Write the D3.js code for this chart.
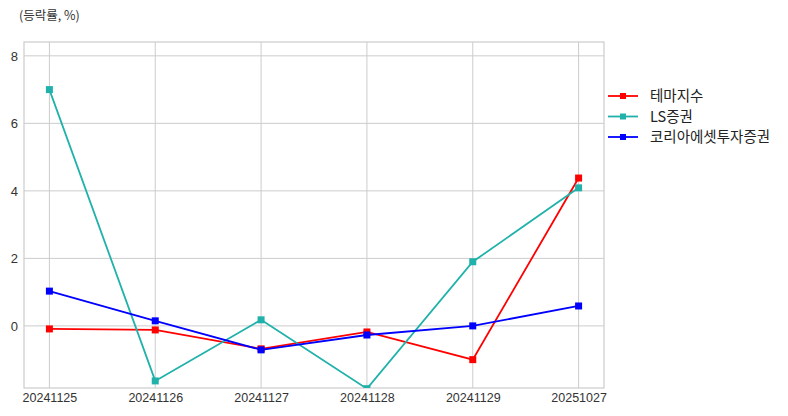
<!DOCTYPE html>
<html><head><meta charset="utf-8">
<script src="https://cdn.jsdelivr.net/npm/d3@7"></script>
<style>body{margin:0;background:#fff;}svg{display:block;font-family:"Noto Sans CJK KR","Noto Sans",sans-serif;}</style>
</head><body><svg id="c" width="788" height="416"></svg>
<script>
const categories = ["20241125","20241126","20241127","20241128","20241129","20251027"];
const themeIndex = [-0.09, -0.12, -0.68, -0.18, -1.0, 4.38];
const lsSec = [7.0, -1.63, 0.18, -1.86, 1.9, 4.09];
const koreaAsset = [1.03, 0.15, -0.71, -0.27, 0.0, 0.59];
const seriesNames = ["테마지수", "LS증권", "코리아에셋투자증권"];
const seriesColors = ["#ff0000", "#20b2aa", "#0000ff"];
const yTicks = [0, 2, 4, 6, 8];
const yDomain = [-1.84, 8.41];
const yTitle = "(등락률, %)";

const series = [themeIndex, lsSec, koreaAsset];
const svg = d3.select("#c");
const m = {l:24, r:604, t:42, b:388};
const x = d3.scalePoint().domain(categories).range([m.l, m.r]).padding(0.24);
const y = d3.scaleLinear().domain(yDomain).range([m.b, m.t]);

svg.append("defs").append("clipPath").attr("id","clip").append("rect")
  .attr("x", m.l).attr("y", m.t).attr("width", m.r-m.l).attr("height", m.b-m.t);

// grid
const g = svg.append("g");
g.selectAll(".hg").data(yTicks).join("line")
  .attr("x1", m.l).attr("x2", m.r).attr("y1", d=>y(d)).attr("y2", d=>y(d))
  .attr("stroke", "#cccccc").attr("stroke-width", 1);
g.selectAll(".vg").data(categories).join("line")
  .attr("x1", d=>x(d)).attr("x2", d=>x(d)).attr("y1", m.t).attr("y2", m.b)
  .attr("stroke", "#cccccc").attr("stroke-width", 1);
g.append("rect").attr("x", m.l).attr("y", m.t).attr("width", m.r-m.l).attr("height", m.b-m.t)
  .attr("fill","none").attr("stroke","#cccccc").attr("stroke-width",1.2);

// axes
const ya = svg.append("g").attr("transform", `translate(${m.l},0)`)
  .call(d3.axisLeft(y).tickValues(yTicks).tickSize(0).tickPadding(6).tickFormat(d3.format("d")));
ya.select(".domain").remove();
ya.selectAll("text").attr("font-size", 13).attr("fill", "#333");
const xa = svg.append("g").attr("transform", `translate(0,${m.b})`)
  .call(d3.axisBottom(x).tickSize(0).tickPadding(5));
xa.select(".domain").remove();
xa.selectAll("text").attr("font-size", 12.5).attr("fill", "#333");

// title
svg.append("text").attr("x", 19).attr("y", 20).attr("font-size", 12.5).attr("fill", "#333").text(yTitle);

// lines
const plot = svg.append("g").attr("clip-path", "url(#clip)");
const line = d3.line().x((d,i)=>x(categories[i])).y(d=>y(d));
series.forEach((s, k) => {
  plot.append("path").datum(s).attr("d", line).attr("fill","none")
    .attr("stroke", seriesColors[k]).attr("stroke-width", 1.8);
  plot.selectAll(null).data(s).join("rect")
    .attr("x", (d,i)=>x(categories[i])-3.5).attr("y", d=>y(d)-3.5)
    .attr("width", 7).attr("height", 7).attr("fill", seriesColors[k]);
});

// legend
const lg = svg.append("g");
seriesNames.forEach((n, k) => {
  const yy = 96 + k*20.5;
  lg.append("line").attr("x1", 608).attr("x2", 638).attr("y1", yy).attr("y2", yy)
    .attr("stroke", seriesColors[k]).attr("stroke-width", 1.8);
  lg.append("rect").attr("x", 620).attr("y", yy-3).attr("width", 6).attr("height", 6).attr("fill", seriesColors[k]);
  lg.append("text").attr("x", 650).attr("y", yy+5).attr("font-size", 14.5).attr("fill", "#222").text(n);
});
</script></body></html>
